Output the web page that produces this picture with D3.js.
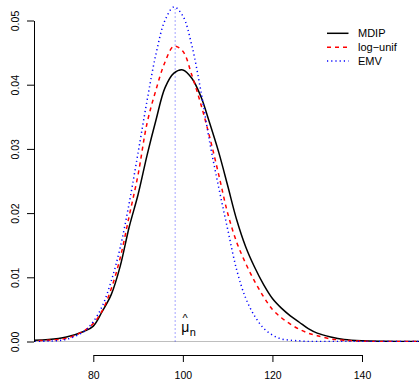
<!DOCTYPE html>
<html>
<head>
<meta charset="utf-8">
<script src="https://cdn.jsdelivr.net/npm/d3@7"></script>
<style>
  body { margin: 0; background: #fff; }
  text { font-family: "Liberation Sans", Arial, sans-serif; }
</style>
</head>
<body>
<div id="chart"></div>
<script>
// densities, on a shared grid of x values
const xGrid = [66, 70, 74, 78, 80, 82, 84, 86, 88, 90, 92, 94, 96, 98, 100, 102, 104, 106, 108, 110,
               112, 114, 116, 118, 120, 122, 124, 126, 128, 130, 133, 136, 140, 145, 153];
const mdip = [0.0002, 0.0003, 0.0007, 0.0016, 0.0024, 0.0047, 0.0073, 0.0117, 0.0178, 0.0229,
              0.0290, 0.0345, 0.0395, 0.0418, 0.0423, 0.0410, 0.0382, 0.0340, 0.0295, 0.0243,
              0.0190, 0.0148, 0.0116, 0.0089, 0.0067, 0.0052, 0.0040, 0.0030, 0.0020, 0.0013,
              0.0007, 0.0003, 0.0001, 0.00003, 0];
const logUnif = [0.0001, 0.0002, 0.0005, 0.0017, 0.0028, 0.0048, 0.0082, 0.0130, 0.0195, 0.0260,
                 0.0340, 0.0392, 0.0435, 0.0460, 0.0452, 0.0415, 0.0370, 0.0318, 0.0260, 0.0200,
                 0.0155, 0.0122, 0.0094, 0.0070, 0.0050, 0.0037, 0.0027, 0.0019, 0.0013, 0.0009,
                 0.0004, 0.0002, 0.00005, 0, 0];
const emv = [0.00001, 0.00006, 0.00035, 0.0016, 0.0031, 0.0055, 0.0094, 0.0146, 0.0215, 0.0294,
             0.0375, 0.0448, 0.0500, 0.0521, 0.0507, 0.0461, 0.0391, 0.0310, 0.0240, 0.0175,
             0.0112, 0.0068, 0.0040, 0.0021, 0.0010, 0.0004, 0.0002, 0.0001, 0, 0,
             0, 0, 0, 0, 0];
const muHat = 98.28;
const xTicks = [80, 100, 120, 140];
const yTicks = [0, 0.01, 0.02, 0.03, 0.04, 0.05];
const seriesNames = ['MDIP', 'log\u2212unif', 'EMV'];

const width = 419, height = 381;

const svg = d3.select('#chart').append('svg')
    .attr('width', width)
    .attr('height', height);

const x = d3.scaleLinear().domain([80, 140]).range([93.3, 362]);
const y = d3.scaleLinear().domain([0, 0.05]).range([341.5, 20.5]);

const plotLeft = 34, plotRight = 419;

svg.append('clipPath').attr('id', 'plotclip')
  .append('rect')
    .attr('x', plotLeft).attr('y', 0)
    .attr('width', plotRight - plotLeft).attr('height', y(0) + 0.5);

// zero reference line
svg.append('line')
    .attr('x1', plotLeft).attr('x2', plotRight)
    .attr('y1', y(0)).attr('y2', y(0))
    .style('stroke', '#bebebe')
    .style('stroke-width', 1);

const series = [
  {name: seriesNames[0], values: mdip, color: '#000000', dash: null, w: 1.5},
  {name: seriesNames[1], values: logUnif, color: '#ff0000', dash: '4,4', w: 1.5},
  {name: seriesNames[2], values: emv, color: '#0000ff', dash: '1.2,3', w: 1.5}
];

const line = d3.line()
    .x(d => x(d[0]))
    .y(d => y(d[1]))
    .curve(d3.curveCatmullRom.alpha(0.5));

const curves = svg.append('g').attr('clip-path', 'url(#plotclip)');

// estimate marker
curves.append('line')
    .attr('x1', x(muHat)).attr('x2', x(muHat))
    .attr('y1', y(0)).attr('y2', y(0.0518))
    .style('stroke', '#0000ff')
    .style('stroke-width', 1)
    .style('stroke-dasharray', '1,3')
    .style('opacity', 0.7);

curves.selectAll('path.curve')
    .data(series)
  .enter().append('path')
    .attr('class', 'curve')
    .attr('d', s => line(xGrid.map((v, i) => [v, s.values[i]])))
    .style('fill', 'none')
    .style('stroke', s => s.color)
    .style('stroke-width', s => s.w)
    .style('stroke-dasharray', s => s.dash);

// axes
const xAxis = svg.append('g')
    .attr('transform', 'translate(0,355)')
    .call(d3.axisBottom(x).tickValues(xTicks).tickSize(7).tickSizeOuter(0).tickFormat(d => d));
xAxis.selectAll('text')
    .attr('y', 16.5)
    .style('font-size', '10.5px')
    .style('fill', '#000');

const yAxis = svg.append('g')
    .attr('transform', 'translate(' + plotLeft + ',0)')
    .call(d3.axisLeft(y).tickValues(yTicks).tickSize(7).tickSizeOuter(0).tickFormat(d3.format('.2f')));
yAxis.selectAll('text')
    .attr('x', 0)
    .attr('y', -15.5)
    .attr('dy', 0)
    .attr('transform', 'rotate(-90)')
    .style('text-anchor', 'middle')
    .style('font-size', '10.5px')
    .style('fill', '#000');

svg.selectAll('.domain, .tick line').style('stroke', '#000');

// mu hat label: symbol, accent above it, subscript n
const lab = svg.append('g').attr('transform', 'translate(' + (x(muHat) + 6) + ',0)');
lab.append('text').attr('x', 0).attr('y', 332).style('font-size', '14px').text('\u03bc');
lab.append('text').attr('x', 4).attr('y', 321.5).style('font-size', '11px')
    .style('text-anchor', 'middle').text('^');
lab.append('text').attr('x', 8.5).attr('y', 335.5).style('font-size', '11px').text('n');

// legend
const legend = svg.append('g').attr('class', 'legend');
const rows = legend.selectAll('g')
    .data(series)
  .enter().append('g')
    .attr('transform', (d, i) => 'translate(327,' + (33.3 + i * 13.9) + ')');
rows.append('line')
    .attr('x1', 0).attr('x2', 21.5)
    .style('stroke', d => d.color)
    .style('stroke-width', d => d.w)
    .style('stroke-dasharray', d => d.dash);
rows.append('text')
    .attr('x', 31)
    .attr('y', 4)
    .style('font-size', '11px')
    .text(d => d.name);
</script>
</body>
</html>
